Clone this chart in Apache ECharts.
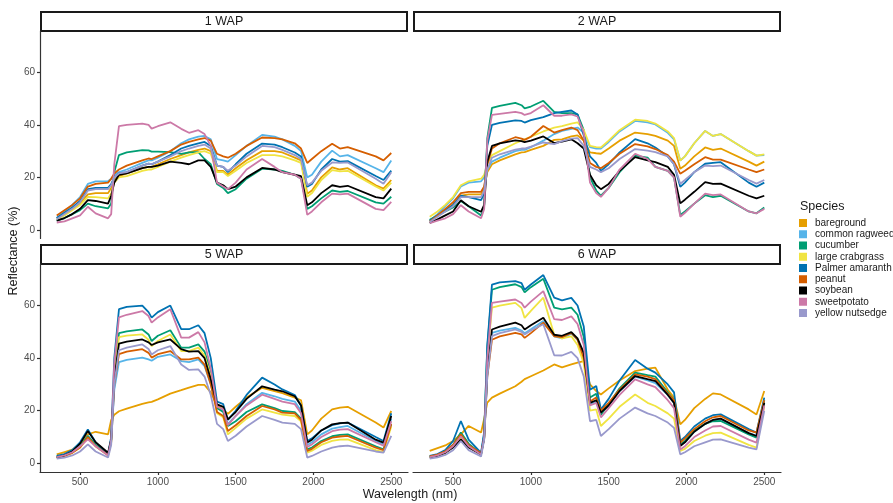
<!DOCTYPE html>
<html>
<head>
<meta charset="utf-8">
<script src="https://cdn.jsdelivr.net/npm/echarts@6/dist/echarts.min.js"></script>
<style>
html,body{margin:0;padding:0;background:#fff;}
#chart{width:893px;height:503px;}
</style>
</head>
<body>
<div id="chart"></div>
<script>
var wavelengths = [350,400,450,500,550,600,680,700,720,750,800,900,940,960,1000,1080,1150,1200,1260,1300,1340,1380,1420,1450,1500,1570,1670,1750,1800,1880,1920,1960,1990,2050,2120,2170,2220,2400,2450,2500];
var species = ["bareground","common ragweed","cucumber","large crabgrass","Palmer amaranth","peanut","soybean","sweetpotato","yellow nutsedge"];
var panelNames = ["1 WAP","2 WAP","5 WAP","6 WAP"];
var xTicks = [500,1000,1500,2000,2500];
var yTicks = [0,20,40,60];

// 1 WAP
var bareground1 = [4.5,6,8,10,13.5,14,14,16,19,20.5, 21.5,23.5,24,24,25,27,28.5,29.5,30.5,31, 30,22.5,22.5,21,23.5,26.5,30,30,29.5,27.5, 26.5,13.8,15,20,23.8,23,23.5,17,15.7,19];
var ragweed1 = [4.5,7,9.5,12.5,17.5,18.5,18.5,19.5,21,22, 23,25.5,26.5,26.5,27.5,30,33,34.5,35.5,35.8, 34.5,27,26.5,26,28.5,32,36.2,35.5,34.5,32, 30,20,21,26,30.2,28,28.5,23.5,22,26.4];
var cucumber1 = [3.5,4.5,6,7.5,10,9,8.2,10,22,28.5, 29.5,30.4,30.3,29.8,29.8,29.6,29,29.5,29.6,27, 25,17.5,16,14,15.5,19.5,23.3,23,22.5,21, 19.5,8,9,12,15,14.5,14.8,10.5,10,12.6];
var crabgrass1 = [4,5.5,7.5,9.5,12.6,12.5,12,14,18,20, 20.5,22.5,23,23,24,26,27.5,28.5,29.5,30, 29,22,22,20.5,22.5,25.5,28.5,28.5,28,26.5, 25.5,12.6,14,19,22.8,22.3,22.5,16.5,15,18];
var palmer1 = [4.5,6.5,8.5,11,15.5,16,16,17.5,20,21.5, 22,24.5,25.2,25,26,28.5,31,32,33,33.5, 32,24.5,24,22,25,29,32.9,32.5,31.5,29.5, 28,16.4,17.5,23,27,26,26.2,20.5,19,22.6];
var peanut1 = [5.5,7.5,9.5,12,16.5,17.5,18,19.5,21.5,23, 24.5,26.5,27.2,27,28,30,32.5,33.5,34.5,35, 34,29,28,27.5,29,32,35.2,35,34.5,33, 31,25.5,27,30,32.8,31,31.5,28,26.5,29.3];
var soybean1 = [3.5,4.5,6,8,11.3,11,10,13,18,21, 21.5,23.5,24,24,24.5,26,25.5,25,26.5,26.5, 24,18,17,15.5,16.5,20,23.6,23,22,21, 20.5,9.4,10.5,14,17,16.4,16.8,12.5,12,15.7];
var sweetpotato1 = [2.8,3.2,4.4,5.5,8.8,6.3,4.4,6,25,39.5, 40,40.5,40,38.6,39.5,41,38.5,37,38,36.5, 32,18,16.5,15.5,18,23,27,24,22,21, 19.5,5.7,7,10.5,13.8,13.5,13.8,8,7.5,10.7];
var nutsedge1 = [4,6,8,10.5,15,15.5,15.5,17,20,21.5, 22,24.5,25.2,25,26,28,30,31,32,32.5, 31,24.5,24,22.5,24.5,28,32,31.5,30.5,28.5, 27,17,18,22.5,25.7,25.5,25.7,19.5,17.6,22];

// 2 WAP
var bareground2 = [3.5,5.5,7.5,9.5,13,13.5,13.5,16,22,25, 26.5,28.8,29.5,29.6,30.5,32,34.3,34.5,35.6,36, 34,29.5,29.2,29,31,34,37.1,36.5,35.8,34, 32,23.3,24.5,28,31.4,30.5,31,26,24.5,26];
var ragweed2 = [3.5,6,9,12,16.5,18,18.5,20,23,26, 27.5,30,30.5,30.5,31.5,34,36.5,37.7,38.5,39, 37,31.5,31,31,33.5,37.5,41.5,41,40.2,37, 34.5,26.4,28,33,37.7,35.8,36.5,30,28.3,28.5];
var cucumber2 = [3.8,5.5,7,8.5,11,9,5.5,9,35,46.5, 47.3,48.4,47.5,46.3,47,49.2,45,44.5,44.5,44, 38,20,15,13,16,22,28.3,27.5,24,22.5, 20,5.7,7,10,13.2,12.5,13,7,6.3,8.5];
var crabgrass2 = [5,7,9.5,12.5,17,18.5,19.5,21,25,28.5, 30,33,34,34.5,35.5,37.5,39,39.5,40.5,41, 38,32,31.5,31.4,34,38,42,41.5,40.5,37.5, 35,26.4,28,33,37.7,35.8,36.5,30,28.3,28.8];
var palmer2 = [3.5,5.5,7.5,9.5,13,12.5,11.3,14,32,40, 40.8,41.7,41.5,40.9,41.8,43,44.5,45,45.5,44, 36,28,25.5,22.5,25,29.5,34.6,33,31.4,28, 25,16.4,18,22,25.2,25.5,25.8,18,16.4,18];
var peanut2 = [3.1,5.5,8,10.5,14,14.5,14.5,16.5,25,31, 33,35.3,34.8,34.3,35.5,39.6,37.1,38,39,38, 34,25.5,24,23.5,25.5,29,32.7,31.8,30.8,28.5, 26,21.4,22.5,25,27.7,26.8,26.8,23,22,23];
var soybean2 = [2.6,4,5.5,7,11.3,9,6.9,9.5,26,32, 33,34.1,33.8,33.4,34,35.6,33.1,33.6,34.5,33, 31,21,17,15.5,17.5,22.5,27.7,26.5,25.8,24, 21,10.1,11.5,14.5,18.2,17.5,17.6,13,12,13];
var sweetpotato2 = [2.6,3.5,4.4,6,9.4,7,4.4,8,34,43.8, 44.2,45,44.5,43.8,44.5,47.5,43.5,43.5,44,43.2, 37,18,14,12.6,16,23,29,27,24,22.5, 20,5,6.5,10,13.8,13.2,13.5,7,6.3,8];
var nutsedge2 = [3,5,7,9,12.5,12.5,12.5,15,23,27.5, 28.8,30.6,31,31,31.7,33.3,32.7,33.8,34.8,35, 32,24,23,22,23.5,27,30.8,30.2,29.6,28, 25,17.6,19,22,24.5,24.3,24.5,19,17.6,19];

// 5 WAP
var bareground5 = [3.4,4.3,5.2,7.5,11,12,11,16.5,18.5,19.8, 20.8,22.6,23.2,23.4,24.3,26.5,27.8,28.8,29.8,29.8, 27,22,20.5,18.8,21.5,25,28.7,27.5,26.7,25, 24,11,12.5,17,20.5,21.2,21.5,15.5,13.6,19.9];
var ragweed5 = [2.6,3.2,4.5,6.5,10.5,7,3.5,8.5,28,38.5, 39.3,40.2,39.5,39,40.5,41.4,38.9,38.5,39.5,37, 30,21,20,15,18,22.5,26.8,25.5,24.5,23.5, 20,7,8,11,13.2,13.8,14.2,8.5,7.3,17];
var cucumber5 = [2.5,3,4.2,6.5,10.4,7,3.2,9,34,49.5, 50.2,50.9,49,46.5,48.5,50.6,44,44,45.2,42.5, 35,21,19.5,14.2,16,19.5,22.4,21,19.9,19.5, 17,5.3,6,8.5,10.3,10.8,11,6.5,5.3,15];
var crabgrass5 = [2.3,2.8,4,6,9.8,6.5,3,8,33,48, 48.6,49,47,44.6,46.5,49,42.7,42.7,44,41, 33,19,17.5,11,13.5,17,20.5,19.3,18.5,18, 16,4.1,4.8,7,8.5,9,9.1,5,4.3,14];
var palmer5 = [2.8,3.5,5,8,12.9,8,3.5,10,40,58.6, 59.5,60,57.5,55.4,57.5,60,51,51,52.5,49.5, 40,23.5,22.5,16.5,20,26,32.6,30,28.1,26, 22,8.5,9.5,12.5,14.5,15.2,15.5,10,8.5,19];
var peanut5 = [2.3,2.8,4,6,10,6.5,3.2,8,30,41.5, 42.5,43.4,42,40.2,41.5,42.7,39.5,39.5,40.2,37.5, 30,19.5,18,12.3,14.5,18,21.8,20.5,19.3,19, 16.5,4.7,5.5,8,9.8,10.2,10.4,6,5,15];
var soybean5 = [2.2,3,4.5,7.5,12.3,8,4,9,32,45.5, 46.3,47.1,46,45,46,47.1,43.4,42.5,42.7,40, 32,22.4,21.5,16.7,19.5,24.5,29.3,28,27.4,25.5, 22,7.9,9,12.5,14.8,15.3,15.5,9,7.9,18];
var sweetpotato5 = [2.4,3,4.2,6.5,9.1,6.5,3,9,38,55.5, 56.5,57.9,56,53.5,55.5,58.6,47.8,47.8,49.9,46, 36,21.5,20.5,14.5,18,22,26.1,24.5,23.5,22.5, 19,6.2,7.2,10,12.2,12.8,13,8,6.7,16];
var nutsedge5 = [1.8,2.2,3,4.5,7.2,4.5,2.2,7,30,43, 44,45.2,43.5,41.4,43,44.6,37.6,35.5,35.7,33, 26,15,13,8.5,10.5,14,18,16.5,15.5,15, 13,2.2,2.8,4.5,6,6.5,6.7,4.5,4.1,10.4];

// 6 WAP
var bareground6 = [4.7,5.8,6.8,8.5,11,14.2,11.7,17,23.1,25, 26.5,29.3,31,32,33.1,35.3,37.6,36.5,37.6,38.3, 38.9,30,27.5,26.2,28.5,31.5,35.1,36,36.4,28, 25,14.8,16.5,21,24.5,26.6,26.2,20.5,18.6,27.5];
var ragweed6 = [2.5,3.2,4.5,7,10.5,7,3.8,10,34,49.6, 50.5,51.5,50.5,49.5,51,54.1,48.3,47.5,49.3,47, 41,22.5,23.5,19,22,27.5,33,31.5,30.5,26, 23,6.8,8,12,15,16.5,16.8,11.5,10.5,23];
var cucumber6 = [2.6,3.2,4.5,7,11.7,7.5,3.6,11,44,66, 67,68.1,67,65,67,70.2,59.2,58.5,59.2,56.5, 48,25,26.5,18.5,22.5,28.5,34.5,33.5,33,27, 24,7.2,8.5,12.5,15,16,16.1,11,9.8,24];
var crabgrass6 = [2.5,3,4,6.5,10,6.5,3.4,10,40,59.2, 60,61,59,55.3,58,63,48.9,47.5,48.3,45, 38,20,20.5,14.2,17,21.5,26.2,23,21.8,19, 17,4.7,5.5,8.5,10.5,11.5,11.7,7,6,22];
var palmer6 = [2.8,3.5,5,8.5,16.1,9,4,12,45,68, 68.8,69.3,68.5,66,68,71.6,63,62,62.9,60, 52,28,29.4,20.5,24.5,31.5,39.3,36,34.5,30, 27,8.5,10,14,17,18.3,18.6,13,11.7,25];
var peanut6 = [2.6,3.3,4.6,7,11,7,3.8,9.5,33,47, 48.3,49.6,49,47.7,49.5,53.5,48.3,48,49.6,47, 40,23.5,25,20,23,28,33.8,33,32,26.5, 24,7.8,9.5,13,16,17.5,18,12.5,11.7,24];
var soybean6 = [2.2,2.8,4,6,9.1,6,3.4,9.5,35,50.9, 52,53.5,52.5,50.9,52.5,55.4,48.9,48.5,49.9,47.5, 42,23,24,19.3,22,27.5,33.2,32,31.3,26, 23,6.6,8,12,15,16.5,17,11.5,10.4,23];
var sweetpotato6 = [2.4,3,4.2,6.5,10.3,6.5,3.4,10,40,61, 61.5,62.3,61,59.2,61.5,65.5,54.8,54.5,55.9,53, 45,22,23,17.5,21,26,31.9,30,29,24, 21,5.3,6.5,10,12.5,14,14.2,9,7.9,22];
var nutsedge6 = [1.8,2.3,3.2,5,8.5,5,2.6,9,33,48.4, 49.5,50.9,50,49,50.5,52.9,41.1,41,42.4,40, 33,16,16.5,10.4,13,17,21.2,19,18,15.5, 13.5,3.4,4.2,6.5,8,9,9.1,6,5.3,20];

var panels = [
    [bareground1, ragweed1, cucumber1, crabgrass1, palmer1, peanut1, soybean1, sweetpotato1, nutsedge1],
    [bareground2, ragweed2, cucumber2, crabgrass2, palmer2, peanut2, soybean2, sweetpotato2, nutsedge2],
    [bareground5, ragweed5, cucumber5, crabgrass5, palmer5, peanut5, soybean5, sweetpotato5, nutsedge5],
    [bareground6, ragweed6, cucumber6, crabgrass6, palmer6, peanut6, soybean6, sweetpotato6, nutsedge6]
];

var colors = ["#E69F00","#56B4E9","#009E73","#F0E442","#0072B2","#D55E00","#000000","#CC79A7","#9999CC"];
var fontFamily = '"Liberation Sans", Arial, sans-serif';
var gridBoxes = [
    {left:40, top:31, width:368, height:207.5},
    {left:413, top:31, width:368, height:207.5},
    {left:40, top:264, width:368, height:208},
    {left:413, top:264, width:368, height:208}
];

function plainNumber(v){
    return String(v);
}

var xAxes = [], yAxes = [], series = [], graphics = [];
for (var p = 0; p < 4; p++) {
    var axisLineStyle = {color:'#333', width:1.2};
    xAxes.push({
        gridIndex:p, type:'value', min:242.5, max:2607.5, show: p >= 2,
        axisLine:{show:true, onZero:false, lineStyle:axisLineStyle},
        axisTick:{show:true, length:3, customValues:xTicks, lineStyle:axisLineStyle},
        axisLabel:{customValues:xTicks, formatter:plainNumber, color:'#4d4d4d', fontSize:10, margin:5, fontFamily:fontFamily},
        splitLine:{show:false}
    });
    yAxes.push({
        gridIndex:p, type:'value', min:-3.3, max:75.8, show: p % 2 === 0,
        axisLine:{show:true, onZero:false, lineStyle:axisLineStyle},
        axisTick:{show:true, length:3, customValues:yTicks, lineStyle:axisLineStyle},
        axisLabel:{customValues:yTicks, formatter:plainNumber, color:'#4d4d4d', fontSize:10, margin:5, fontFamily:fontFamily},
        splitLine:{show:false}
    });
    for (var s = 0; s < species.length; s++) {
        var vals = panels[p][s];
        series.push({
            type:'line', name:species[s], xAxisIndex:p, yAxisIndex:p,
            data: wavelengths.map(function(w, k){ return [w, vals[k]]; }),
            showSymbol:false, symbol:'none', silent:true,
            lineStyle:{color:colors[s], width:1.8},
            itemStyle:{color:colors[s]}
        });
    }
    var g = gridBoxes[p];
    graphics.push({
        type:'rect', shape:{x:g.left + 1, y:(p < 2 ? 12 : 245), width:g.width - 2, height:19},
        style:{fill:'#fff', stroke:'#1a1a1a', lineWidth:2}
    });
    graphics.push({
        type:'text', x:g.left + g.width / 2, y:(p < 2 ? 21.5 : 254.5),
        style:{text:panelNames[p], fill:'#1a1a1a', fontSize:12.5, fontFamily:fontFamily, align:'center', verticalAlign:'middle'}
    });
}

graphics.push({
    type:'text', x:14, y:251, rotation:Math.PI / 2,
    style:{text:'Reflectance (%)', fill:'#1a1a1a', fontSize:12.5, fontFamily:fontFamily, align:'center', verticalAlign:'middle'}
});
graphics.push({
    type:'text', x:410, y:495,
    style:{text:'Wavelength (nm)', fill:'#1a1a1a', fontSize:12.5, fontFamily:fontFamily, align:'center', verticalAlign:'middle'}
});
graphics.push({
    type:'text', x:800, y:207,
    style:{text:'Species', fill:'#1a1a1a', fontSize:12.5, fontFamily:fontFamily, align:'left', verticalAlign:'middle'}
});

var chart = echarts.init(document.getElementById('chart'), null, {renderer:'canvas'});
var option = {
    animation:false,
    backgroundColor:'#fff',
    grid:gridBoxes,
    xAxis:xAxes,
    yAxis:yAxes,
    legend:{
        orient:'vertical', left:799, top:218, padding:0,
        itemWidth:8, itemHeight:8, itemGap:1.25, icon:'rect',
        selectedMode:false,
        itemStyle:{borderWidth:0},
        textStyle:{fontSize:10, color:'#1a1a1a', lineHeight:8, padding:[0,0,0,3], fontFamily:fontFamily},
        data:species
    },
    graphic:graphics,
    series:series
};
chart.setOption(option);
</script>
</body>
</html>
